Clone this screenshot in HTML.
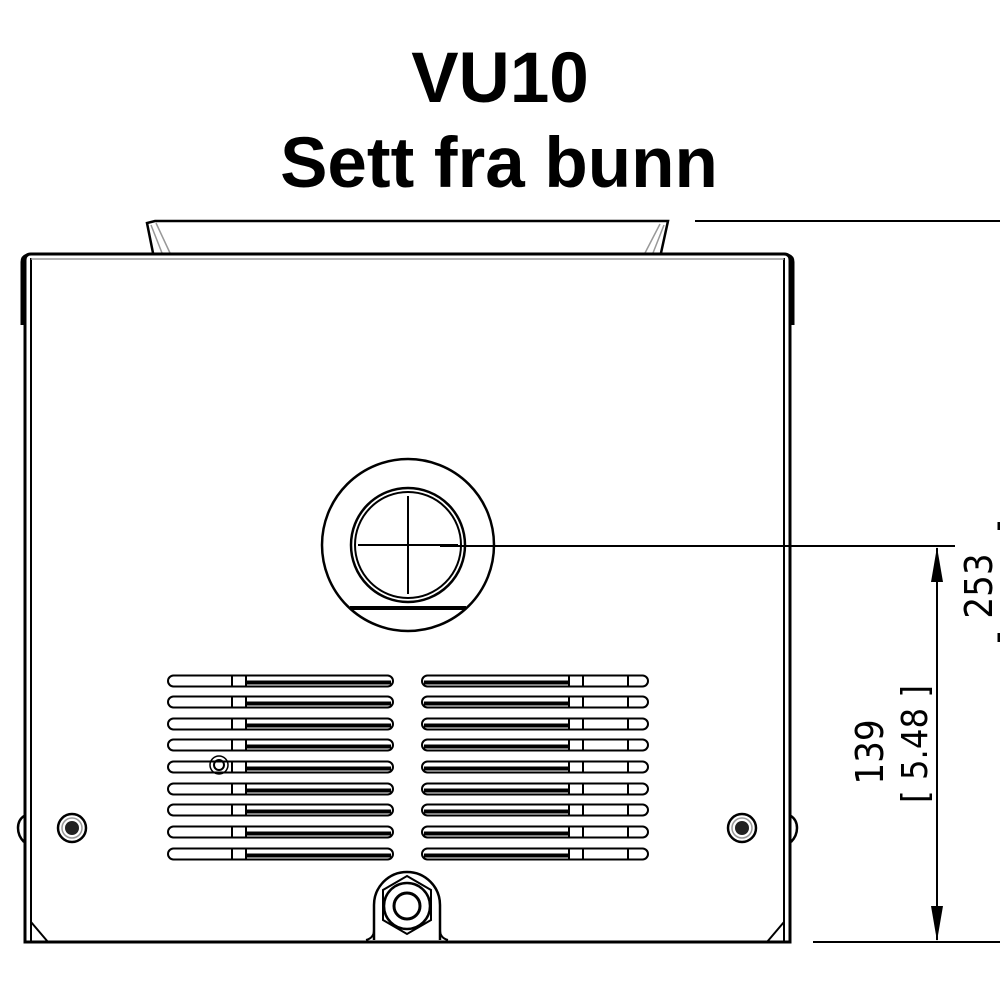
<!DOCTYPE html>
<html><head><meta charset="utf-8"><style>
html,body{margin:0;padding:0;background:#fff;width:1000px;height:1000px;overflow:hidden}
</style></head><body>
<svg width="1000" height="1000" viewBox="0 0 1000 1000" xmlns="http://www.w3.org/2000/svg">
<text x="500" y="102" text-anchor="middle" font-family="Liberation Sans, sans-serif" font-weight="bold" font-size="71">VU10</text>
<text x="499" y="187" text-anchor="middle" font-family="Liberation Sans, sans-serif" font-weight="bold" font-size="71">Sett fra bunn</text>

<g fill="none" stroke="#000" stroke-width="2.5">
<path d="M153,253 L147,223 L155,221 L668,221 L661,253"/>
<path d="M151,225 L162,253 M156,223 L170,253 M664,225 L653,253 M660,224 L645,253" stroke="#999" stroke-width="1.5"/>
<path d="M25,942 L25,260 Q25,254 31,254 L784,254 Q790,254 790,260 L790,942 Z" stroke-width="3"/>
<line x1="31" y1="258" x2="31" y2="942" stroke-width="2"/>
<line x1="784" y1="258" x2="784" y2="942" stroke-width="2"/>
<line x1="31" y1="259" x2="784" y2="259" stroke="#999" stroke-width="1.5"/>
<path d="M22,325 L22,262 Q22,256 28,255" stroke-width="3"/>
<path d="M793,325 L793,262 Q793,256 787,255" stroke-width="3"/>
<path d="M31,922 L48,942 M784,922 L767,942" stroke-width="2"/>
<path d="M24,816 Q18,820 18,828 Q18,836 24,842" stroke-width="2.5"/>
<path d="M791,816 Q797,820 797,828 Q797,836 791,842" stroke-width="2.5"/>
<circle cx="72" cy="828" r="14" stroke-width="2.5"/><circle cx="72" cy="828" r="10" stroke="#999" stroke-width="1.5"/><circle cx="72" cy="828" r="7" fill="#222" stroke="none"/>
<circle cx="742" cy="828" r="14" stroke-width="2.5"/><circle cx="742" cy="828" r="10" stroke="#999" stroke-width="1.5"/><circle cx="742" cy="828" r="7" fill="#222" stroke="none"/>
<circle cx="408" cy="545" r="86" stroke-width="2.5"/>
<circle cx="408" cy="545" r="57" stroke-width="2.5"/>
<circle cx="408" cy="545" r="53" stroke-width="2"/>
<line x1="350" y1="608" x2="466" y2="608" stroke-width="4"/>
<line x1="358" y1="545" x2="458" y2="545" stroke-width="2"/>
<line x1="408" y1="496" x2="408" y2="594" stroke-width="2"/>
<line x1="440" y1="546" x2="955" y2="546" stroke-width="2"/>
<line x1="813" y1="942" x2="1000" y2="942" stroke-width="2"/>
<line x1="695" y1="221" x2="1000" y2="221" stroke-width="2"/>
<line x1="937" y1="548" x2="937" y2="940" stroke-width="2"/>
<line x1="999" y1="522" x2="999" y2="530" stroke-width="3"/>
<line x1="999" y1="633" x2="999" y2="642" stroke-width="3"/>
</g>
<polygon points="937,547 931,582 943,582" fill="#000"/>
<polygon points="937,941 931,906 943,906" fill="#000"/>
<text transform="translate(992,586) rotate(-90)" text-anchor="middle" font-family="DejaVu Sans Condensed, Liberation Sans Narrow, sans-serif" font-size="38" fill="#000">253</text>
<text transform="translate(883,752) rotate(-90)" text-anchor="middle" font-family="DejaVu Sans Condensed, Liberation Sans Narrow, sans-serif" font-size="38" fill="#000">139</text>
<text transform="translate(927,744) rotate(-90)" text-anchor="middle" font-family="DejaVu Sans Condensed, Liberation Sans Narrow, sans-serif" font-size="36" fill="#000">[ 5.48 ]</text>

<g fill="none" stroke="#000" stroke-width="2">
<defs>
<g id="L"><rect x="168" y="-5.5" width="225" height="11" rx="5.5"/><line x1="232" y1="-5" x2="232" y2="5"/><line x1="246" y1="-5" x2="246" y2="5"/><line x1="246" y1="1.5" x2="391" y2="1.5" stroke-width="4"/></g>
<g id="R"><rect x="422" y="-5.5" width="226" height="11" rx="5.5"/><line x1="569" y1="-5" x2="569" y2="5"/><line x1="583" y1="-5" x2="583" y2="5"/><line x1="628" y1="-5" x2="628" y2="5"/><line x1="424" y1="1.5" x2="569" y2="1.5" stroke-width="4"/></g>
</defs>
<use href="#L" y="681"/><use href="#R" y="681"/>
<use href="#L" y="702"/><use href="#R" y="702"/>
<use href="#L" y="724"/><use href="#R" y="724"/>
<use href="#L" y="745"/><use href="#R" y="745"/>
<use href="#L" y="767"/><use href="#R" y="767"/>
<use href="#L" y="789"/><use href="#R" y="789"/>
<use href="#L" y="810"/><use href="#R" y="810"/>
<use href="#L" y="832"/><use href="#R" y="832"/>
<use href="#L" y="854"/><use href="#R" y="854"/>
<circle cx="219" cy="765" r="5"/><circle cx="219" cy="765" r="9" stroke-width="1.5"/>
<path d="M374,940 L374,905 A33,33 0 0 1 440,905 L440,940" stroke-width="2.5"/>
<path d="M366,940 Q374,938 374,930 M448,940 Q440,938 440,930" stroke-width="2"/>
<polygon points="407,876 431,890 431,920 407,934 383,920 383,890" stroke-width="2"/>
<circle cx="407" cy="906" r="23" stroke-width="2.5"/>
<circle cx="407" cy="906" r="13" stroke-width="3"/>
</g>
</svg>
</body></html>
